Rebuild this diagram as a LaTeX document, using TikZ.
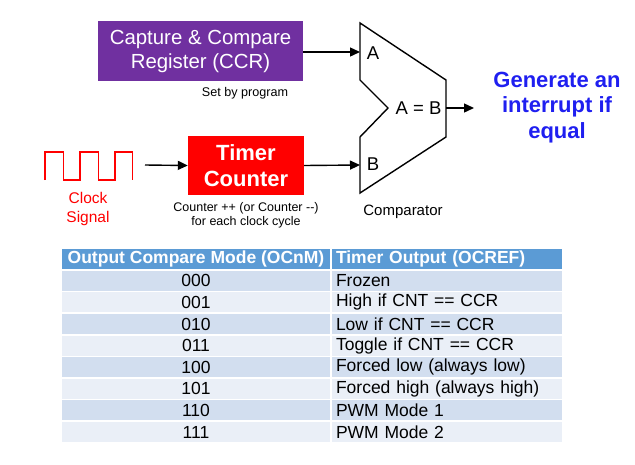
\documentclass[tikz,border=0pt]{standalone}
\usepackage{fontspec}
\setmainfont{Liberation Sans}
\usetikzlibrary{arrows.meta}
\definecolor{ccrpurple}{HTML}{7030A0}
\definecolor{tcred}{HTML}{FF0000}
\definecolor{intblue}{HTML}{1F1FF0}
\definecolor{hdrblue}{HTML}{5B9BD5}
\definecolor{rowdark}{HTML}{D2DEEF}
\definecolor{rowlight}{HTML}{EAEFF7}
\newcommand\fsz[2]{\fontsize{#1}{#2}\selectfont}
\tikzset{
  conn/.style={line width=1.4pt,-{Triangle[length=10pt,width=9pt]}},
  blockbox/.style={inner sep=0pt,align=center,text=white},
  note/.style={inner sep=0pt,align=center},
  cell/.style={draw=white,line width=1.5pt,inner sep=0pt,minimum height=21.6pt},
  col1/.style={cell,minimum width=270pt},
  col2/.style={cell,minimum width=232pt,text width=222pt,align=left},
  hdr/.style={fill=hdrblue,text=white,font=\bfseries\fsz{17.5pt}{20pt}},
  rdark/.style={fill=rowdark,font=\fsz{17.5pt}{20pt}},
  rlight/.style={fill=rowlight,font=\fsz{17.5pt}{20pt}},
}
\begin{document}
\begin{tikzpicture}[x=1pt,y=-1pt]
\useasboundingbox (0,0) rectangle (635,464);
% CCR block
\node[blockbox,fill=ccrpurple,minimum width=205pt,minimum height=60pt,font=\fsz{20.4pt}{24pt}] (ccr) at (200.5,51) {Capture \& Compare\\Register (CCR)};
\node[note,font=\fsz{12.6pt}{15pt}] (setby) at (245,93) {Set by program};
% Timer counter
\node[blockbox,fill=tcred,minimum width=116pt,minimum height=59pt,font=\bfseries\fsz{22pt}{26pt}] (timer) at (246,165.5) {Timer\\Counter};
\node[note,font=\fsz{12.5pt}{14pt}] (cnote) at (246,215) {Counter ++ (or Counter {-}{-})\\for each clock cycle};
% Clock
\draw[tcred,line width=1.2pt] (45,180) -- (45,152) -- (63.3,152) -- (63.3,180) -- (80,180) -- (80,152) -- (98.3,152) -- (98.3,180) -- (115,180) -- (115,152) -- (132.3,152) -- (132.3,180);
\node[note,text=tcred,font=\fsz{15.5pt}{19pt}] (clk) at (88,208.5) {Clock\\Signal};
\coordinate (clkout) at (145,165);
% Comparator
\draw[line width=1.4pt,line join=miter] (360,23) -- (446,80) -- (446,137) -- (360,193) -- (360,137) -- (388,108) -- (360,80) -- cycle;
\coordinate (inA) at (360,52);
\coordinate (inB) at (360,165);
\coordinate (cout) at (446,108);
\coordinate (oend) at (474,108);
\node[note,font=\fsz{18.5pt}{20pt}] (la) at (373,53) {A};
\node[note,font=\fsz{18.5pt}{20pt}] (lb) at (373,164) {B};
\node[note,font=\fsz{18.5pt}{20pt}] (lab) at (418.5,108) {A = B};
\node[note,font=\fsz{15pt}{18pt}] (cmp) at (403,212) {Comparator};
\node[note,text=intblue,font=\bfseries\fsz{22pt}{25.5pt}] (gen) at (557,107.5) {Generate an\\interrupt if\\equal};
% connectors
\draw[conn] (ccr.east |- inA) -- (inA);
\draw[conn] (timer.east) -- (inB);
\draw[conn] (clkout) -- (timer.west);
\draw[conn] (cout) -- (oend);
% Table
\node[col1,hdr] (h1) at (196,259) {Output Compare Mode (OCnM)};
\node[col2,hdr] (h2) at (447,259) {Timer Output (OCREF)};
\foreach \i/\a/\b/\s in {0/000/Frozen/rdark,1/001/High if CNT == CCR/rlight,2/010/Low if CNT == CCR/rdark,3/011/Toggle if CNT == CCR/rlight,4/100/Forced low (always low)/rdark,5/101/Forced high (always high)/rlight,6/110/PWM Mode 1/rdark,7/111/PWM Mode 2/rlight}{
  \node[col1,\s] (a\i) at (196,280.8+21.6*\i) {\a};
  \node[col2,\s] (b\i) at (447,280.8+21.6*\i) {\b};
}
\end{tikzpicture}
\end{document}
